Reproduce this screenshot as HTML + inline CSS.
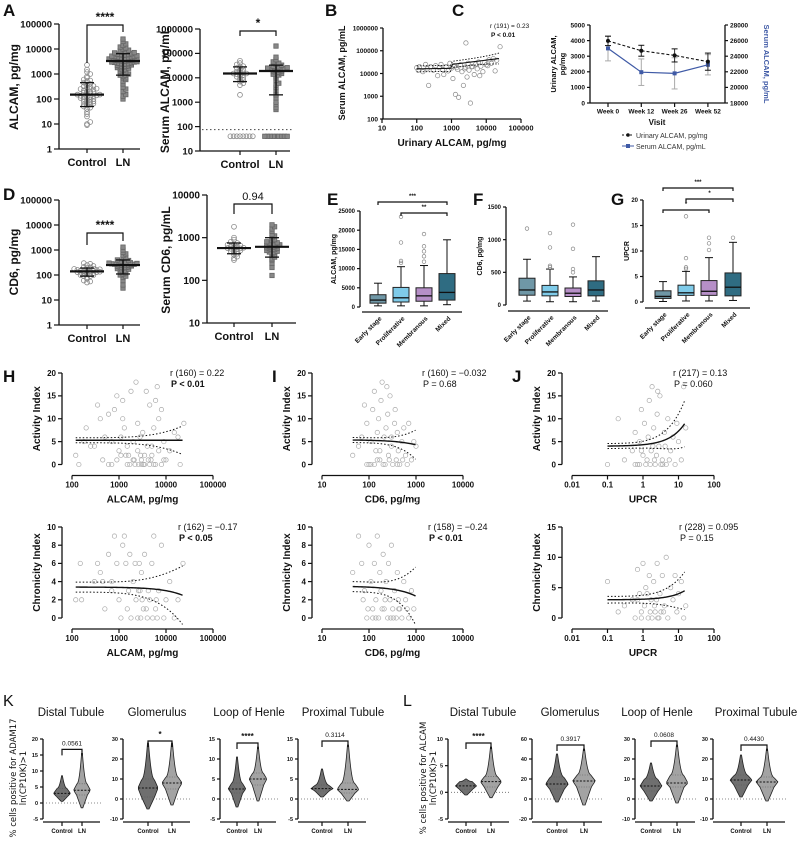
<!DOCTYPE html>
<html><head><meta charset="utf-8">
<style>
html,body{margin:0;padding:0;background:#fff;}
svg{display:block;font-family:"Liberation Sans",Arial,sans-serif;}
</style></head>
<body>
<svg id="fig" width="800" height="846" viewBox="0 0 800 846"></svg>
<script>
// ---------- DATA ----------
const aCtrl=[10,9,12,20,25,30,40,45,50,55,60,65,70,80,90,100,100,110,120,130,140,150,160,180,200,200,220,250,280,300,320,350,400,450,500,550,600,700,800,1000,1200,1500,2300,60,80,120,150,170,190,240,260,330,75,95,115,135];
const aLN=[100,130,150,200,250,300,400,500,600,700,800,900,1000,1100,1200,1400,1500,1600,1800,2000,2000,2200,2400,2500,2600,2800,3000,3000,3200,3400,3500,3600,3800,4000,4000,4200,4400,4500,4800,5000,5000,5500,6000,6000,6500,7000,7500,8000,9000,10000,11000,12000,14000,16000,20000,25000,2300,2700,3300,3700,4300,4700,5200,5800,1300,1700,2100,900,700,3100,3900,4100,2900,5400,6200,7200,8500,1900,2600,3500];
const aSCtrl=[2000,5000,6000,7000,8000,9000,10000,11000,12000,13000,14000,15000,15000,16000,17000,18000,20000,22000,25000,28000,30000,35000,40000,50000,40,40,40,40,40,40,40,40];
const aSLN=[500,600,800,1000,1500,2000,3000,4000,5000,6000,8000,10000,12000,14000,15000,16000,18000,20000,20000,21000,22000,23000,24000,25000,27000,30000,33000,36000,40000,45000,55000,70000,200000,40,40,40,40,40,40,40,40,40,17000,19000,26000,13000,28000];
const bPts=[[100,18000],[110,14000],[120,20000],[150,12000],[180,25000],[200,16000],[220,3000],[250,20000],[300,14000],[350,22000],[400,8000],[450,18000],[500,25000],[550,15000],[600,9000],[700,20000],[800,13000],[900,28000],[1000,17000],[1100,6000],[1200,22000],[1300,1200],[1500,15000],[1600,900],[1800,24000],[2000,12000],[2200,3000],[2500,19000],[2800,7000],[2600,220000],[3000,28000],[3200,14000],[3500,500],[4000,20000],[4500,9000],[5000,26000],[5500,16000],[6000,32000],[7000,21000],[8000,12000],[9000,30000],[10000,24000],[12000,40000],[14000,28000],[16000,45000],[18000,13000],[20000,38000],[25000,150000],[1400,18000],[2400,16000],[3800,20000],[6500,8000],[11000,22000]];
const bFit=[16000,0.12];
const cWeeks=["Week 0","Week 12","Week 26","Week 52"];
const cUrine=[3980,3350,3050,2650];
const cUrineErr=[300,350,420,550];
const cSerum=[25000,21950,21800,22900];
const cSerumErr=[1600,1700,2000,1300];
const dCtrl=[50,55,60,70,80,90,100,100,110,120,120,130,130,140,140,150,150,160,170,180,190,200,210,230,250,280,300,90,110,160,175,135,125,145];
const dLN=[30,40,60,80,90,100,110,120,130,150,160,170,180,200,200,220,230,240,250,250,260,270,280,300,320,350,380,400,450,500,600,700,800,1000,1300,210,190,310,330,270,290,140,240,260];
const dSCtrl=[300,330,360,400,420,450,480,500,520,550,560,580,600,620,650,680,700,750,800,900,1000,1800,540,570,610,470];
const dSLN=[130,200,250,300,320,350,380,400,430,450,480,500,520,550,580,600,620,650,680,700,750,800,850,900,1000,1100,1200,1400,1600,1800,2000,560,610,640,530,700,760,460];
const boxCats=["Early stage","Proliferative","Membranous","Mixed"];
const boxColors=["#6f97a6","#7fcbe9","#b68fc7","#2f6c82"];
const eBox=[[300,1000,1800,3200,6200],[300,1300,2400,5100,10500],[300,1500,2900,5000,10800],[600,1800,3800,8700,17500]];
const eOut=[[],[11500,12000,16800,23500],[11800,13200,14500,15800,19000],[]];
const fBox=[[60,150,230,410,700],[50,140,200,300,550],[50,130,180,260,430],[60,140,230,370,740]];
const fOut=[[1170],[580,600,880,1100],[500,550,860,1230],[]];
const gBox=[[0.1,0.7,1.1,2.2,4],[0.2,1.3,1.8,3.3,6],[0.2,1.3,2.1,4.2,8.7],[0.3,1.2,2.9,5.7,11.7]];
const gOut=[[],[6.5,6.8,8.6,16.8],[10.2,11.5,12.6],[12.6]];
const hTop=[[120,2],[140,0],[200,8],[300,4],[350,13],[400,10],[450,1],[500,6],[600,11],[700,0],[800,12],[900,15],[1000,3],[1100,6],[1200,14],[1300,8],[1500,0],[1600,2],[1800,16],[2000,5],[2200,0],[2500,9],[2800,6],[3000,1],[3200,7],[3500,0],[4000,4],[4500,13],[5000,2],[5500,8],[6000,14],[7000,10],[8000,0],[9000,5],[10000,1],[12000,3],[15000,7],[18000,6],[20000,0],[24000,9],[700,5],[1500,4],[2500,3],[3500,2],[4500,0],[6000,0],[9000,1],[1200,10],[2000,1],[3000,0],[5000,4],[8000,12],[1400,2],[2600,0],[4200,1],[7000,3],[180,5],[250,4],[3800,16],[2300,18],[6500,17],[1700,0],[2100,1],[2900,2],[3300,0],[4800,1],[5500,0],[900,1],[1100,2],[600,0]];
const hBot=[[120,2],[150,6],[160,2],[300,4],[350,6],[400,5],[500,1],[600,7],[700,3],[800,9],[900,6],[1000,2],[1200,8],[1300,9],[1500,1],[1700,7],[1800,0],[2000,4],[2200,6],[2500,0],[2800,3],[3000,5],[3300,1],[3500,7],[4000,0],[4500,2],[5000,6],[5500,9],[6000,1],[7000,3],[8000,8],[9000,0],[10000,2],[12000,4],[15000,0],[18000,2],[23000,6],[2600,3],[1600,3],[4200,3],[700,4],[450,4],[3800,1],[6500,0],[1100,0],[2300,2],[2900,0],[3100,2],[1400,6],[2700,6],[5200,0],[6200,2]];
const iTop=[[45,2],[60,4],[70,6],[80,13],[90,9],[100,0],[110,5],[120,12],[130,16],[140,3],[150,7],[160,10],[170,1],[180,14],[200,0],[210,6],[230,8],[250,11],[260,2],[280,15],[300,4],[320,0],[350,9],[380,1],[400,7],[420,3],[450,0],[500,5],[550,8],[600,2],[650,0],[700,9],[800,1],[900,5],[1000,4],[190,18],[240,17],[90,0],[130,0],[170,3],[300,6],[360,12],[110,0],[150,1],[220,0],[270,1],[400,0],[520,1]];
const iBot=[[45,5],[60,9],[70,6],[80,3],[90,0],[100,8],[110,4],[120,1],[130,6],[140,2],[150,9],[160,0],[170,5],[180,3],[200,7],[210,1],[230,4],[250,0],[260,6],[280,2],[300,8],[320,1],[350,3],[380,0],[400,5],[420,2],[450,1],[500,0],[550,4],[600,2],[650,1],[700,0],[800,3],[900,1],[1000,13],[75,2],[95,1],[140,0],[220,2],[330,0],[120,0],[190,1],[290,0],[430,1]];
const jTop=[[0.1,0],[0.2,10],[0.3,1],[0.5,3],[0.6,7],[0.7,0],[0.8,5],[0.9,12],[1,2],[1.1,9],[1.2,0],[1.4,6],[1.5,14],[1.7,3],[2,8],[2.2,0],[2.5,11],[2.8,4],[3,15],[3.5,1],[4,7],[4.5,0],[5,10],[6,3],[7,6],[8,0],[9,9],[10,5],[12,1],[14,17],[16,8],[0.8,0],[1.3,1],[2.4,2],[3.2,0],[4.2,4],[1.8,17],[2.6,16],[0.6,0],[1.6,0],[2.1,1],[3.6,0],[5.5,1],[0.9,3],[1.9,4]];
const jBot=[[0.1,6],[0.2,1],[0.3,2],[0.5,3],[0.6,0],[0.7,8],[0.8,4],[0.9,1],[1,9],[1.1,2],[1.2,5],[1.4,0],[1.5,7],[1.7,3],[2,6],[2.2,1],[2.5,9],[2.8,0],[3,4],[3.5,7],[4,2],[4.5,10],[5,0],[6,5],[7,3],[8,7],[9,1],[10,4],[12,6],[14,0],[16,2],[1.8,0],[2.4,3],[3.2,1],[1.3,4],[0.9,0],[1.6,1],[2.6,0],[3.8,1],[0.7,3],[2.1,2]];
const fits={hTop:[5.3,0,0.02],hBot:[3.4,-0.000040,0.004],iTop:[5.4,-0.0011,0.03],iBot:[3.5,-0.0011,0.03],jTop:[4.0,0.33,0.2],jBot:[3.0,0.10,0.1]};
const kTitles=["Distal Tubule","Glomerulus","Loop of Henle","Proximal Tubule"];
const kP=["0.0561","*","****","0.3114"];
const kCtrl=[[0.5,2,3,4.5,8.5],[-5,1,5.5,10,28],[-2,1.5,2.5,4,10.5],[0.5,2,2.6,3.5,7.5]];
const kLN=[[-1.5,2.5,4,6,15.5],[-3,5,8,11,28],[-0.5,3.5,5,6.5,13],[-0.5,1.5,2.4,4,13.5]];
const kRange=[[-5,20,5],[-10,30,10],[-5,15,5],[-5,15,5]];
const lP=["****","0.3917","0.0608","0.4430"];
const lCtrl=[[-0.5,0.6,1.2,2,2.5],[-3,10,15,22,45],[-1,4,6.5,10,18],[1,7,9.5,12,22]];
const lLN=[[-1,1,2,3,8.5],[-6,12,18,24,50],[-2,6,8,12,27],[-1,6,8.5,11,25]];
const lRange=[[-5,10,5],[-20,60,20],[-10,30,10],[-10,30,10]];

// ---------- HELPERS ----------
const NS="http://www.w3.org/2000/svg";
const svg=document.getElementById('fig');
function el(tag,attrs,name,parent,txt){
  const e=document.createElementNS(NS,tag);
  for(const k in attrs)e.setAttribute(k,attrs[k]);
  
  
  if(txt!==undefined)e.textContent=txt;
  (parent||svg).appendChild(e);return e;
}
function text(x,y,s,name,o){o=o||{};
  const a={x:x,y:y,'font-size':o.fs||9,'text-anchor':o.anchor||'middle',fill:o.fill||'#111'};
  if(o.bold)a['font-weight']='bold';if(o.italic)a['font-style']='italic';
  if(o.rot!==undefined)a.transform='rotate('+o.rot+' '+x+' '+y+')';
  if(o.family)a['font-family']=o.family;
  return el('text',a,name,o.parent,s);}
function line(x1,y1,x2,y2,name,o){o=o||{};
  const a={x1:x1,y1:y1,x2:x2,y2:y2,stroke:o.stroke||'#111','stroke-width':o.w||1};
  if(o.dash)a['stroke-dasharray']=o.dash;return el('line',a,name,o.parent);}
function path(d,name,o){o=o||{};const a={d:d,fill:o.fill||'none',stroke:o.stroke||'#111','stroke-width':o.w||1};
  if(o.dash)a['stroke-dasharray']=o.dash;return el('path',a,name,o.parent);}
const L10=Math.log10;
function logScale(lo,hi,p0,p1){return v=>p0+(L10(v)-L10(lo))/(L10(hi)-L10(lo))*(p1-p0);}
function linScale(lo,hi,p0,p1){return v=>p0+(v-lo)/(hi-lo)*(p1-p0);}
function yAxis(x,ticks,sc,labels,name,fs,bold,len,right){
  const g=el('g',{},name);
  const ys=ticks.map(sc);
  line(x,Math.min(...ys),x,Math.max(...ys),name+'-line',{parent:g,w:1.3});
  ticks.forEach((t,i)=>{const y=sc(t);
    line(right?x:x-(len||4),y,right?x+(len||4):x,y,name+'-tick',{parent:g,w:1.2});
    text(right?x+(len||4)+2:x-(len||4)-2,y+fs*0.35,labels[i],name+'-label',{parent:g,fs:fs,bold:bold,anchor:right?'start':'end'});});
  return g;}
function xAxis(y,ticks,sc,labels,name,fs,bold,x0,x1){
  const g=el('g',{},name);
  line(x0!==undefined?x0:sc(ticks[0]),y,x1!==undefined?x1:sc(ticks[ticks.length-1]),y,name+'-line',{parent:g,w:1.3});
  ticks.forEach((t,i)=>{const x=sc(t);line(x,y,x,y+4,name+'-tick',{parent:g,w:1.2});
    if(labels[i]!=='')text(x,y+4+fs,labels[i],name+'-label',{parent:g,fs:fs,bold:bold});});
  return g;}
function panelLabel(x,y,s){text(x,y,s,'panel-label-'+s.toLowerCase(),{fs:17,bold:true,anchor:'start'});}
function swarm(vals,cx,sc,name,shape,o){
  const g=el('g',{},name);const bins={};const step=o.step||3.2;
  vals.slice().sort((a,b)=>a-b).forEach(v=>{const y=sc(v);const b=Math.round(y/(o.bin||3));
    const k=bins[b]||0;bins[b]=k+1;let dx=(k%2?1:-1)*Math.ceil(k/2)*step;
    if(Math.abs(dx)>o.maxw)dx=((k*step*1.7)%(2*o.maxw))-o.maxw;
    if(shape==='sq')el('rect',{x:cx+dx-2.2,y:y-2.2,width:4.4,height:4.4,fill:o.fill||'none',stroke:o.stroke||'#777','stroke-width':0.8},name+'-point',g);
    else el('circle',{cx:cx+dx,cy:y,r:2.4,fill:o.fill||'none',stroke:o.stroke||'#888','stroke-width':0.8},name+'-point',g);});
  return g;}
function median(a){const s=a.slice().sort((x,y)=>x-y);return s[Math.floor(s.length/2)];}
function quant(a,q){const s=a.slice().sort((x,y)=>x-y);return s[Math.floor(q*(s.length-1))];}
function meanBar(vals,cx,sc,name){const m=median(vals);
  line(cx-17,sc(m),cx+17,sc(m),name+'-median',{w:2.2});
  const hi=quant(vals,0.84);line(cx,sc(m),cx,sc(hi),name+'-err',{w:1.3});line(cx-7,sc(hi),cx+7,sc(hi),name+'-errcap',{w:1.3});
  const lo=quant(vals,0.16);line(cx,sc(m),cx,sc(lo),name+'-err',{w:1.3});line(cx-7,sc(lo),cx+7,sc(lo),name+'-errcap',{w:1.3});}
function bracket(x1,x2,y,l1,l2,lab,name,fs,bold){path(`M${x1},${y+l1}V${y}H${x2}V${y+l2}`,name,{w:1.2});
  text((x1+x2)/2,y-4,lab,name+'-label',{fs:fs,bold:bold});}

// ---------- PANEL A ----------
panelLabel(3,16,'A');
{const sc=logScale(1,100000,149,24);
 yAxis(59,[1,10,100,1000,10000,100000],sc,['1','10','100','1000','10000','100000'],'a1-y-axis',9.5,true,5);
 xAxis(149,[87,123],v=>v,['',''],'a1-x-axis',10,true,59,140);
 text(87,166,'Control','a1-x-label-control',{fs:11,bold:true});text(123,166,'LN','a1-x-label-ln',{fs:11,bold:true});
 text(18,87,'ALCAM, pg/mg','a1-y-title',{fs:12,bold:true,rot:-90});
 swarm(aCtrl,87,sc,'a1-control-points','c',{maxw:14});
 swarm(aLN,123,sc,'a1-ln-points','sq',{maxw:15,step:2.8,fill:'#888',stroke:'#666'});
 meanBar(aCtrl,87,sc,'a1-control');meanBar(aLN,123,sc,'a1-ln');
 bracket(87,123,25,38,7,'****','a1-sig-bracket',12,true);}
{const sc=logScale(10,1000000,151,29);
 yAxis(200,[10,100,1000,10000,100000,1000000],sc,['10','100','1000','10000','100000','1000000'],'a2-y-axis',9.5,true,5);
 xAxis(151,[240,276],v=>v,['',''],'a2-x-axis',10,true,200,290);
 text(240,168,'Control','a2-x-label-control',{fs:11,bold:true});text(276,168,'LN','a2-x-label-ln',{fs:11,bold:true});
 text(169,90,'Serum ALCAM, pg/mL','a2-y-title',{fs:12,bold:true,rot:-90});
 line(202,sc(75),292,sc(75),'a2-lloq-line',{dash:'1.5,2.5',w:1,stroke:'#444'});
 swarm(aSCtrl,240,sc,'a2-control-points','c',{maxw:14});
 swarm(aSLN,276,sc,'a2-ln-points','sq',{maxw:15,step:2.8,fill:'#888',stroke:'#666'});
 meanBar(aSCtrl.filter(v=>v>40),240,sc,'a2-control');meanBar(aSLN.filter(v=>v>40),276,sc,'a2-ln');
 bracket(240,276,31,5,5,'*','a2-sig-bracket',12,true);}

// ---------- PANEL B ----------
panelLabel(325,16,'B');
{const sx=logScale(10,100000,382,521),sy=logScale(100,1000000,119,28);
 yAxis(383,[100,1000,10000,100000,1000000],sy,['100','1000','10000','100000','1000000'],'b-y-axis',6.5,true,3);
 xAxis(119,[10,100,1000,10000,100000],sx,['10','100','1000','10000','100000'],'b-x-axis',7.5,true);
 text(345,73,'Serum ALCAM, pg/mL','b-y-title',{fs:9,bold:true,rot:-90});
 text(452,146,'Urinary ALCAM, pg/mg','b-x-title',{fs:10,bold:true});
 const g=el('g',{},'b-points');bPts.forEach(p=>el('circle',{cx:sx(p[0]),cy:sy(p[1]),r:2.2,fill:'none',stroke:'#888','stroke-width':0.7},'b-point',g));
 const f=x=>bFit[0]*Math.pow(x/100,bFit[1]*(x>1000?1.6:0.2));
 let d='',du='',dl='';for(let x=100;x<=25000;x*=1.15){d+=(d?'L':'M')+sx(x)+','+sy(f(x));du+=(du?'L':'M')+sx(x)+','+sy(f(x)*(1.35+x/60000));dl+=(dl?'L':'M')+sx(x)+','+sy(f(x)/(1.35+x/60000));}
 path(d,'b-fit-line',{w:1.1});path(du,'b-ci-upper',{dash:'1.5,1.5',w:0.9});path(dl,'b-ci-lower',{dash:'1.5,1.5',w:0.9});
 text(490,28,'r (191) = 0.23','b-r-value',{fs:6.5,anchor:'start'});text(491,37,'P < 0.01','b-p-value',{fs:6.5,bold:true,anchor:'start'});}

// ---------- PANEL C ----------
panelLabel(452,16,'C');
{const xs=cWeeks.map((w,i)=>608+i*33.3);const sy=linScale(0,5000,103,25);const sr=linScale(18000,28000,103,25);
 yAxis(590,[0,1000,2000,3000,4000,5000],sy,['0','1000','2000','3000','4000','5000'],'c-y-axis-left',6.5,true,3);
 yAxis(725,[18000,20000,22000,24000,26000,28000],sr,['18000','20000','22000','24000','26000','28000'],'c-y-axis-right',6.5,true,3,true);
 xAxis(103,xs,v=>v,cWeeks,'c-x-axis',6.5,true,590,725);
 text(556,64,'Urinary ALCAM,','c-y-title-1',{fs:7.5,bold:true,rot:-90});text(565,64,'pg/mg','c-y-title-2',{fs:7.5,bold:true,rot:-90});
 text(764,64,'Serum ALCAM, pg/mL','c-y-title-right',{fs:7.5,bold:true,rot:90,fill:'#3f5aa6'});
 text(657,125,'Visit','c-x-title',{fs:8,bold:true});
 let d='';cSerum.forEach((v,i)=>{const y=sr(v);d+=(i?'L':'M')+xs[i]+','+y;
   line(xs[i],sr(v-cSerumErr[i]),xs[i],sr(v+cSerumErr[i]),'c-serum-err',{stroke:'#aaa'});
   line(xs[i]-3,sr(v-cSerumErr[i]),xs[i]+3,sr(v-cSerumErr[i]),'c-serum-cap',{stroke:'#aaa'});line(xs[i]-3,sr(v+cSerumErr[i]),xs[i]+3,sr(v+cSerumErr[i]),'c-serum-cap',{stroke:'#aaa'});});
 path(d,'c-serum-line',{stroke:'#3f5aa6',w:1.2});
 cSerum.forEach((v,i)=>el('rect',{x:xs[i]-2,y:sr(v)-2,width:4,height:4,fill:'#3f5aa6'},'c-serum-point'));
 let d2='';cUrine.forEach((v,i)=>{const y=sy(v);d2+=(i?'L':'M')+xs[i]+','+y;
   line(xs[i],sy(v-cUrineErr[i]),xs[i],sy(v+cUrineErr[i]),'c-urine-err',{stroke:'#333'});
   line(xs[i]-3,sy(v-cUrineErr[i]),xs[i]+3,sy(v-cUrineErr[i]),'c-urine-cap');line(xs[i]-3,sy(v+cUrineErr[i]),xs[i]+3,sy(v+cUrineErr[i]),'c-urine-cap');});
 path(d2,'c-urine-line',{dash:'3,2',w:1.1});
 cUrine.forEach((v,i)=>el('circle',{cx:xs[i],cy:sy(v),r:2,fill:'#111'},'c-urine-point'));
 const lg=el('g',{},'c-legend');
 line(622,135,634,135,'c-legend-urine-line',{dash:'2,2',parent:lg});el('circle',{cx:628,cy:135,r:1.8,fill:'#111'},'c-legend-urine-marker',lg);
 text(636,138,'Urinary ALCAM, pg/mg','c-legend-urine-label',{fs:7,anchor:'start',parent:lg,fill:'#333'});
 line(622,146,634,146,'c-legend-serum-line',{stroke:'#3f5aa6',parent:lg});el('rect',{x:626,y:144,width:4,height:4,fill:'#3f5aa6'},'c-legend-serum-marker',lg);
 text(636,149,'Serum ALCAM, pg/mL','c-legend-serum-label',{fs:7,anchor:'start',parent:lg,fill:'#333'});}

// ---------- PANEL D ----------
panelLabel(3,200,'D');
{const sc=logScale(1,100000,325,200);
 yAxis(59,[1,10,100,1000,10000,100000],sc,['1','10','100','1000','10000','100000'],'d1-y-axis',9.5,true,5);
 xAxis(325,[87,123],v=>v,['',''],'d1-x-axis',10,true,59,140);
 text(87,342,'Control','d1-x-label-control',{fs:11,bold:true});text(123,342,'LN','d1-x-label-ln',{fs:11,bold:true});
 text(18,262,'CD6, pg/mg','d1-y-title',{fs:12,bold:true,rot:-90});
 swarm(dCtrl,87,sc,'d1-control-points','c',{maxw:14});
 swarm(dLN,123,sc,'d1-ln-points','sq',{maxw:15,step:2.8,fill:'#888',stroke:'#666'});
 meanBar(dCtrl,87,sc,'d1-control');meanBar(dLN,123,sc,'d1-ln');
 bracket(87,123,233,12,8,'****','d1-sig-bracket',12,true);}
{const sc=logScale(10,10000,323,195);
 yAxis(207,[10,100,1000,10000],sc,['10','100','1000','10000'],'d2-y-axis',10,true,5);
 xAxis(323,[234,272],v=>v,['',''],'d2-x-axis',10,true,207,296);
 text(234,340,'Control','d2-x-label-control',{fs:11,bold:true});text(272,340,'LN','d2-x-label-ln',{fs:11,bold:true});
 text(170,260,'Serum CD6, pg/mL','d2-y-title',{fs:12,bold:true,rot:-90});
 swarm(dSCtrl,234,sc,'d2-control-points','c',{maxw:14});
 swarm(dSLN,272,sc,'d2-ln-points','sq',{maxw:16,step:2.6,fill:'#888',stroke:'#666'});
 meanBar(dSCtrl,234,sc,'d2-control');meanBar(dSLN,272,sc,'d2-ln');
 bracket(234,272,204,10,10,'0.94','d2-sig-bracket',11,false);}

// ---------- BOX PANELS E F G ----------
function boxPanel(id,axX,ticks,sc,box,out,cx,baseY,x1,title,titleX){
 yAxis(axX,ticks,sc,ticks.map(String),id+'-y-axis',6,true,3);
 line(axX+2,baseY,x1,baseY,id+'-x-axis',{w:1.3});
 text(titleX,(sc(ticks[0])+sc(ticks[ticks.length-1]))/2,title,id+'-y-title',{fs:7,bold:true,rot:-90});
 box.forEach((b,i)=>{const x=cx[i];const g=el('g',{},id+'-box-'+boxCats[i].toLowerCase().replace(' ','-'));
   line(x,sc(b[0]),x,sc(b[1]),id+'-whisker',{parent:g});line(x,sc(b[3]),x,sc(b[4]),id+'-whisker',{parent:g});
   line(x-4,sc(b[0]),x+4,sc(b[0]),id+'-cap',{parent:g});line(x-4,sc(b[4]),x+4,sc(b[4]),id+'-cap',{parent:g});
   el('rect',{x:x-8,y:sc(b[3]),width:16,height:sc(b[1])-sc(b[3]),fill:boxColors[i],stroke:'#222','stroke-width':1},id+'-box-rect',g);
   line(x-8,sc(b[2]),x+8,sc(b[2]),id+'-median',{parent:g,w:1.3});
   out[i].forEach(o=>el('circle',{cx:x,cy:sc(o),r:1.8,fill:'none',stroke:'#888','stroke-width':0.7},id+'-outlier',g));
   text(x+4,baseY+7,boxCats[i],id+'-category-label',{fs:6.5,bold:true,anchor:'end',rot:-45});});}
panelLabel(327,205,'E');
{const sc=linScale(0,25000,307,211);const cx=[378,401,424,447];
 boxPanel('e',360,[0,5000,10000,15000,20000,25000],sc,eBox,eOut,cx,312,462,'ALCAM, pg/mg',336);
 bracket(cx[0],cx[3],202,3,3,'***','e-sig-bracket-1',6,true);bracket(cx[1],cx[3],213,3,3,'**','e-sig-bracket-2',6,true);}
panelLabel(473,205,'F');
{const sc=linScale(0,1500,305,207);const cx=[527,550,573,596];
 boxPanel('f',506,[0,500,1000,1500],sc,fBox,fOut,cx,311,608,'CD6, pg/mg',482);}
panelLabel(611,205,'G');
{const sc=linScale(0,20,302,200);const cx=[663,686,709,733];
 boxPanel('g',643,[0,5,10,15,20],sc,gBox,gOut,cx,308,750,'UPCR',629);
 bracket(cx[0],cx[3],188,3,3,'***','g-sig-bracket-1',6,true);bracket(cx[1],cx[3],199,3,3,'*','g-sig-bracket-2',6,true);bracket(cx[0],cx[2],210,3,3,'*','g-sig-bracket-3',6,true);}

// ---------- SCATTER PANELS H I J ----------
function scatter(id,axX,xTicks,xLabels,xlo,xhi,xp0,xp1,yTicks,yMax,yTop,yBot,pts,fit,xTitle,yTitle,rTxt,pTxt,pBold,rX){
 const sx=logScale(xlo,xhi,xp0,xp1),sy=linScale(0,yMax,yBot,yTop);
 yAxis(axX,yTicks,sy,yTicks.map(String),id+'-y-axis',8,true,4);
 xAxis(yBot+11,xTicks,sx,xLabels,id+'-x-axis',8,true);
 text((xp0+xp1)/2,yBot+38,xTitle,id+'-x-title',{fs:10,bold:true});
 text(axX-22,(yTop+yBot)/2,yTitle,id+'-y-title',{fs:10,bold:true,rot:-90});
 const g=el('g',{},id+'-points');pts.forEach(p=>el('circle',{cx:sx(p[0]),cy:sy(p[1]),r:2.2,fill:'none',stroke:'#aaa','stroke-width':0.7},id+'-point',g));
 let xs=[];const xmin=pts.reduce((m,p)=>Math.min(m,p[0]),1e9),xmax=pts.reduce((m,p)=>Math.max(m,p[0]),0);
 for(let x=xmin;x<=xmax*1.001;x*=1.08)xs.push(x);
 const f=x=>fit[0]+fit[1]*x;
 const band=x=>{const r=(L10(x)-L10(xmin))/(L10(xmax)-L10(xmin));return 0.55+Math.pow(r,4)*Math.max(3,Math.abs(fit[1]*xmax))*0.9;};
 let d='',du='',dl='';xs.forEach((x,i)=>{d+=(i?'L':'M')+sx(x)+','+sy(f(x));du+=(i?'L':'M')+sx(x)+','+sy(f(x)+band(x));dl+=(i?'L':'M')+sx(x)+','+sy(f(x)-band(x));});
 path(d,id+'-fit-line',{w:1.4});path(du,id+'-ci-upper',{dash:'1.5,2',w:1});path(dl,id+'-ci-lower',{dash:'1.5,2',w:1});
 text(rX,yTop+3,rTxt,id+'-r-value',{fs:9,anchor:'start'});text(rX+1,yTop+14,pTxt,id+'-p-value',{fs:9,bold:pBold,anchor:'start'});}
panelLabel(3,382,'H');panelLabel(272,382,'I');panelLabel(512,382,'J');
scatter('h-top',62,[100,1000,10000,100000],['100','1000','10000','100000'],100,100000,72,213,[0,5,10,15,20],20,373,464.5,hTop,fits.hTop,'ALCAM, pg/mg','Activity Index','r (160) = 0.22','P < 0.01',true,170);
scatter('h-bot',62,[100,1000,10000,100000],['100','1000','10000','100000'],100,100000,72,213,[0,2,4,6,8,10],10,527,618,hBot,fits.hBot,'ALCAM, pg/mg','Chronicity Index','r (162) = −0.17','P < 0.05',true,178);
scatter('i-top',312,[10,100,1000,10000],['10','100','1000','10000'],10,10000,322,463,[0,5,10,15,20],20,373,464.5,iTop,fits.iTop,'CD6, pg/mg','Activity Index','r (160) = −0.032','P = 0.68',false,422);
scatter('i-bot',312,[10,100,1000,10000],['10','100','1000','10000'],10,10000,322,463,[0,2,4,6,8,10],10,527,618,iBot,fits.iBot,'CD6, pg/mg','Chronicity Index','r (158) = −0.24','P < 0.01',true,428);
scatter('j-top',562,[0.01,0.1,1,10,100],['0.01','0.1','1','10','100'],0.01,100,572,714,[0,5,10,15,20],20,373,464.5,jTop,fits.jTop,'UPCR','Activity Index','r (217) = 0.13','P = 0.060',false,673);
scatter('j-bot',562,[0.01,0.1,1,10,100],['0.01','0.1','1','10','100'],0.01,100,572,714,[0,5,10,15],15,527,618,jBot,fits.jBot,'UPCR','Chronicity Index','r (228) = 0.095','P = 0.15',false,679);

// ---------- VIOLIN PANELS K L ----------
function violin(b,cx,sc,w,fill,name){
 const g=el('g',{},name);const lv=[],n=30;
 for(let i=0;i<=n;i++){const v=b[0]+(b[4]-b[0])*i/n;let f;
   if(v<b[1])f=0.1+0.55*(v-b[0])/(b[1]-b[0]);else if(v<b[2])f=0.65+0.35*(v-b[1])/(b[2]-b[1]);
   else if(v<b[3])f=1-0.4*(v-b[2])/(b[3]-b[2]);else f=0.6-0.55*Math.sqrt((v-b[3])/(b[4]-b[3]));
   lv.push([sc(v),Math.max(0.5,f*w)]);}
 let d='M'+cx+','+sc(b[0]);lv.forEach(p=>d+='L'+(cx+p[1])+','+p[0]);lv.slice().reverse().forEach(p=>d+='L'+(cx-p[1])+','+p[0]);d+='Z';
 path(d,name+'-body',{fill:fill,stroke:'#222',w:0.8,parent:g});
 const wq=q=>{let best=lv[0];lv.forEach(p=>{if(Math.abs(p[0]-sc(q))<Math.abs(best[0]-sc(q)))best=p;});return best[1];};
 line(cx-wq(b[2]),sc(b[2]),cx+wq(b[2]),sc(b[2]),name+'-median',{dash:'2,1.5',w:1,parent:g});
 line(cx-wq(b[1]),sc(b[1]),cx+wq(b[1]),sc(b[1]),name+'-q1',{dash:'1,1.5',w:0.6,stroke:'#555',parent:g});
 line(cx-wq(b[3]),sc(b[3]),cx+wq(b[3]),sc(b[3]),name+'-q3',{dash:'1,1.5',w:0.6,stroke:'#555',parent:g});}
function violinSet(id,titles,pv,ctrl,ln,rng,axXs,cCx,lCx,titleX){
 titles.forEach((t,i)=>{const ax=axXs[i];const r=rng[i];const sc=linScale(r[0],r[1],819,739);const ticks=[];for(let v=r[0];v<=r[1];v+=r[2])ticks.push(v);
   text(titleX[i],716,t,id+'-title-'+i,{fs:11.5,anchor:'middle'});
   yAxis(ax,ticks,sc,ticks.map(String),id+'-y-axis-'+i,5.5,true,3);
   xAxis(822,[cCx[i],lCx[i]],v=>v,['',''],id+'-x-axis-'+i,6,true,ax,lCx[i]+18);
   text(cCx[i],833,'Control','k-x-label-control',{fs:6,bold:true});text(lCx[i],833,'LN','k-x-label-ln',{fs:6,bold:true});
   line(ax,sc(0),lCx[i]+20,sc(0),id+'-zero-line-'+i,{dash:'1,2',stroke:'#666',w:0.8});
   const w=(lCx[i]-cCx[i])*0.42;
   violin(ctrl[i],cCx[i],sc,w,'#6f6f6f',id+'-violin-control-'+i);violin(ln[i],lCx[i],sc,w,'#a3a3a3',id+'-violin-ln-'+i);
   const top=sc(Math.max(ctrl[i][4],ln[i][4]));const by=Math.min(top-4,752);
   bracket(cCx[i],lCx[i],Math.max(by,741),6,6,pv[i],id+'-sig-'+i,pv[i].indexOf('*')>=0?8:6.5,pv[i].indexOf('*')>=0);});}
text(3,706,'K','panel-label-k',{fs:16,anchor:'start'});
text(403,706,'L','panel-label-l',{fs:16,anchor:'start'});
text(16,778,'% cells positive for ADAM17','k-y-title-1',{fs:8.5,rot:-90,family:'"DejaVu Sans","Liberation Sans",sans-serif'});
text(26,778,'ln(CP10K)>1','k-y-title-2',{fs:8.5,rot:-90,family:'"DejaVu Sans","Liberation Sans",sans-serif'});
text(426,778,'% cells positive for ALCAM','l-y-title-1',{fs:8.5,rot:-90,family:'"DejaVu Sans","Liberation Sans",sans-serif'});
text(436,778,'ln(CP10K)>1','l-y-title-2',{fs:8.5,rot:-90,family:'"DejaVu Sans","Liberation Sans",sans-serif'});
violinSet('k',kTitles,kP,kCtrl,kLN,kRange,[43,123,220,298],[62,148,237,322],[82,172,258,348],[71,157,249,343]);
violinSet('l',kTitles,lP,lCtrl,lLN,lRange,[448,532,635,713],[466,557,651,741],[491,584,677,767],[483,570,657,756]);
</script>
</body></html>
